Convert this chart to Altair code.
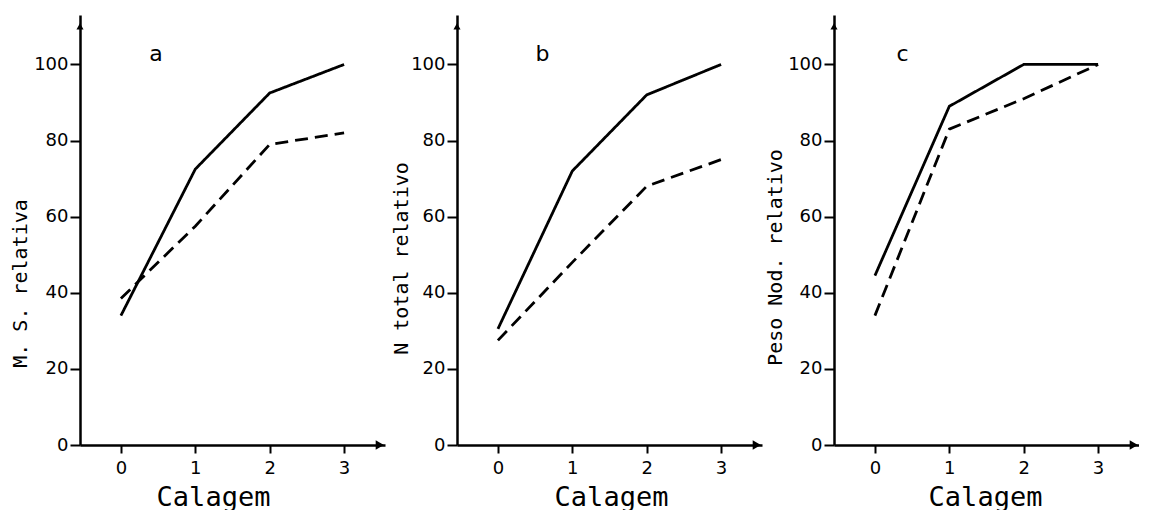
import altair as alt
import pandas as pd

# ---- data ----
calagem = [0, 1, 2, 3]
ms_solid = [34, 72.5, 92.5, 100]
ms_dashed = [38.5, 57.5, 79, 82]
n_solid = [30.5, 72, 92, 100]
n_dashed = [27.5, 48, 68, 75]
peso_solid = [44.5, 89, 100, 100]
peso_dashed = [34, 83, 91, 100]

y_titles = ["M. S. relativa", "N total relativo", "Peso Nod. relativo"]
panel_letters = ["a", "b", "c"]
letter_x = [0.47, 0.6, 0.37]
letter_y = 101
x_title = "Calagem"
x_ticks = [0, 1, 2, 3]
y_ticks = [0, 20, 40, 60, 80, 100]
X_DOMAIN = [-0.55, 3.55]
Y_DOMAIN = [0, 113]

INK = "#000000"


def panel(solid, dashed, ytitle, letter, lx, ytitle_x, ytitle_y, xtitle_x):
    df = pd.DataFrame({
        "Calagem": calagem * 2,
        "valor": solid + dashed,
        "serie": ["solid"] * len(calagem) + ["dashed"] * len(calagem),
    })
    x = alt.X(
        "Calagem:Q",
        scale=alt.Scale(domain=X_DOMAIN, nice=False, zero=False),
        axis=alt.Axis(values=x_ticks, title=x_title, titleX=xtitle_x, titleY=60,
                      titleBaseline="alphabetic", titleAlign="center",
                      titleFontSize=27, grid=False, tickSize=8, labelPadding=6,
                      format="d"),
    )
    y = alt.Y(
        "valor:Q",
        scale=alt.Scale(domain=Y_DOMAIN, nice=False),
        axis=alt.Axis(values=y_ticks, title=ytitle, titleX=ytitle_x, titleY=ytitle_y,
                      titleAngle=-90, titleAlign="center", titleBaseline="middle",
                      grid=False, tickSize=10, labelPadding=2, format="d"),
    )
    lines = alt.Chart(df).mark_line(color=INK, strokeWidth=2.8).encode(
        x=x,
        y=y,
        detail="serie:N",
        strokeDash=alt.StrokeDash(
            "serie:N",
            scale=alt.Scale(domain=["solid", "dashed"], range=[[1, 0], [13, 7]]),
            legend=None,
        ),
    )
    xarrow = alt.Chart(pd.DataFrame({"Calagem": [X_DOMAIN[1] - 0.07], "valor": [0]})).mark_point(
        shape="triangle-right", filled=True, color=INK, size=90, opacity=1
    ).encode(x="Calagem:Q", y="valor:Q")
    yarrow = alt.Chart(pd.DataFrame({"Calagem": [X_DOMAIN[0]], "valor": [Y_DOMAIN[1] - 3]})).mark_point(
        shape="triangle-up", filled=True, color=INK, size=50, opacity=1
    ).encode(x="Calagem:Q", y="valor:Q")
    label = alt.Chart(pd.DataFrame({"Calagem": [lx], "valor": [letter_y], "t": [letter]})).mark_text(
        fontSize=22, font="DejaVu Sans", color=INK, baseline="alphabetic", align="center"
    ).encode(x="Calagem:Q", y="valor:Q", text="t:N")
    return alt.layer(lines, xarrow, yarrow, label).properties(width=305, height=430)


pa = panel(ms_solid, ms_dashed, y_titles[0], panel_letters[0], letter_x[0], -60, 268, 133)
pb = panel(n_solid, n_dashed, y_titles[1], panel_letters[1], letter_x[1], -56, 243, 154)
pc = panel(peso_solid, peso_dashed, y_titles[2], panel_letters[2], letter_x[2], -59, 242, 151)

chart = alt.hconcat(pa, pb, pc, spacing=72, bounds="flush").properties(
    padding={"left": 2, "top": 7, "right": 0, "bottom": 0},
    background="white",
).configure_view(stroke=None).configure_axis(
    domainColor=INK, domainWidth=2.5, tickColor=INK, tickWidth=2,
    labelFont="DejaVu Sans", labelFontSize=18, labelColor=INK,
    titleFont="DejaVu Sans Mono", titleFontSize=20, titleFontWeight="normal",
    titleColor=INK,
)

chart.save("out.html", embed_options={"renderer": "svg", "actions": False})
